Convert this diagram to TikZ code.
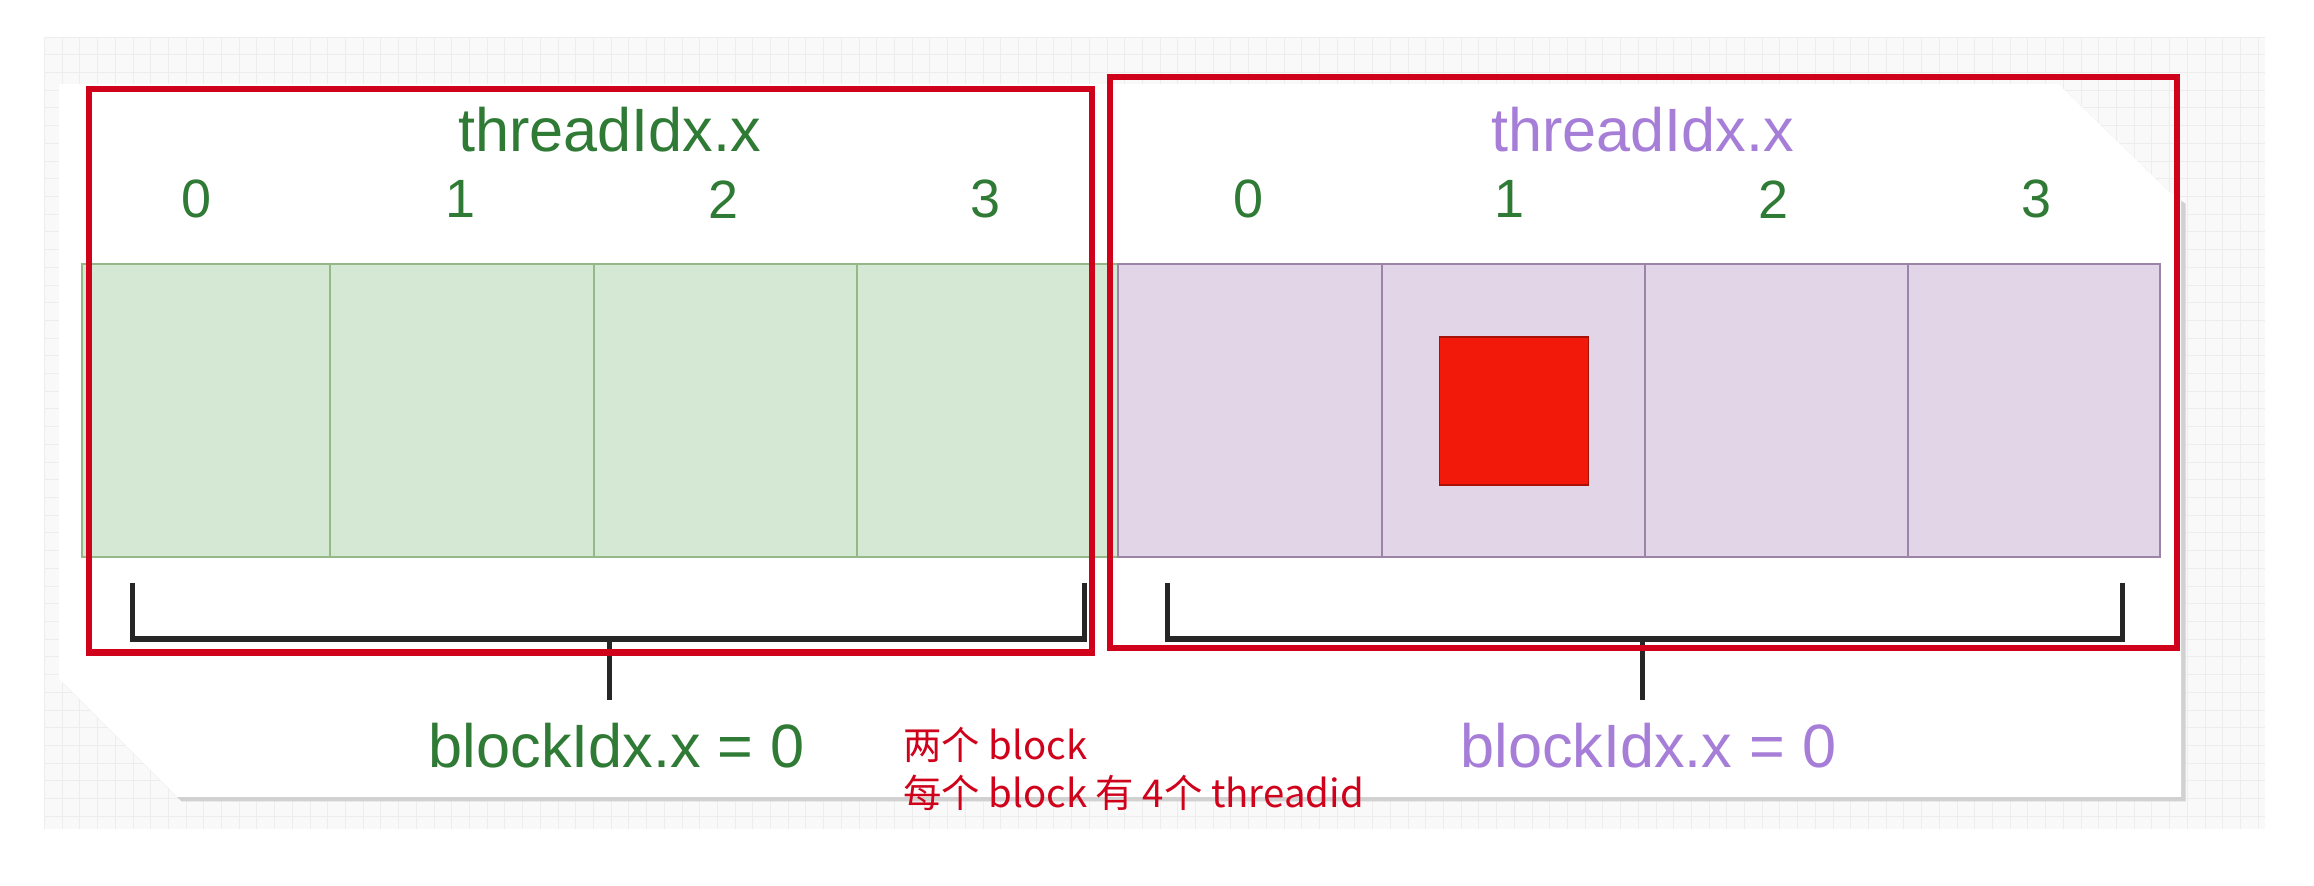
\documentclass[tikz,border=0pt]{standalone}
\usepackage{fontspec}
\setmainfont{Liberation Sans}
\newfontfamily\cjk{Noto Sans CJK SC}
\definecolor{gtext}{HTML}{2F7A35}
\definecolor{ptext}{HTML}{A67ED8}
\definecolor{gfill}{HTML}{D5E8D4}
\definecolor{gline}{HTML}{94B886}
\definecolor{pfill}{HTML}{E2D5E8}
\definecolor{pline}{HTML}{9C84A8}
\definecolor{rbox}{HTML}{D0021B}
\definecolor{rsq}{HTML}{F2190A}
\definecolor{gridc}{HTML}{EDEDED}
\begin{document}
\begin{tikzpicture}[x=0.05cm,y=-0.05cm,
  num/.style={font=\fontsize{52}{58}\selectfont,text=gtext},
  lbl/.style={font=\fontsize{59}{64}\selectfont},
  gcell/.style={fill=gfill,draw=gline,line width=2pt},
  pcell/.style={fill=pfill,draw=pline,line width=2pt},
  redbox/.style={draw=rbox,line width=6pt},
  brk/.style={draw=black!85,line width=5pt}]
\useasboundingbox (0,0) rectangle (1568,600);
\fill[white] (0,0) rectangle (1568,600);
\fill[gridc!35] (30,25) rectangle (1535,562);
\foreach \x in {30,42,...,1535} \draw[gridc,line width=0.6pt] (\x,25) -- (\x,562);
\foreach \y in {25,37,...,562} \draw[gridc,line width=0.6pt] (30,\y) -- (1535,\y);
% card shadow and card
\fill[black!18] (43,60) -- (1398,60) -- (1473,133) -- (1481,138) -- (1481,543) -- (123,543) -- (43,463) -- cycle;
\fill[white] (40,57) -- (1395,57) -- (1470,130) -- (1478,135) -- (1478,540) -- (120,540) -- (40,460) -- cycle;
% cells
\foreach \a/\b [count=\i] in {55/223,223/402,402/580,580/757}
  \node[gcell,minimum width={(\b-\a)*0.05cm},minimum height=9.95cm,anchor=north west,inner sep=0] (g\i) at (\a,178) {};
\foreach \a/\b [count=\i] in {757/936,936/1114,1114/1292,1292/1463}
  \node[pcell,minimum width={(\b-\a)*0.05cm},minimum height=9.95cm,anchor=north west,inner sep=0] (p\i) at (\a,178) {};
\node[fill=rsq,draw=rsq!70!black,line width=1.5pt,minimum width=5.05cm,minimum height=5cm,inner sep=0,anchor=north west] (sq) at (975,228) {};
% labels
\node[lbl,text=gtext] (tg) at (413,88) {threadIdx.x};
\node[lbl,text=ptext] (tp) at (1113,88) {threadIdx.x};
\foreach \x/\n [count=\i] in {133/0,312/1,490/2,668/3} \node[num] (ng\i) at (\x,135) {\n};
\foreach \x/\n [count=\i] in {846/0,1023/1,1202/2,1380/3} \node[num] (np\i) at (\x,135) {\n};
% brackets
\coordinate (bl1) at (90,395); \coordinate (bl2) at (90,433); \coordinate (bl3) at (735,433); \coordinate (bl4) at (735,395);
\coordinate (bls) at (413,433); \coordinate (ble) at (413,474);
\draw[brk] (bl1) -- (bl2) -- (bl3) -- (bl4); \draw[brk] (bls) -- (ble);
\coordinate (br1) at (791,395); \coordinate (br2) at (791,433); \coordinate (br3) at (1438,433); \coordinate (br4) at (1438,395);
\coordinate (brs) at (1113,433); \coordinate (bre) at (1113,474);
\draw[brk] (br1) -- (br2) -- (br3) -- (br4); \draw[brk] (brs) -- (bre);
\node[lbl,text=gtext] (bg) at (418,505) {blockIdx.x = 0};
\node[lbl,text=ptext] (bp) at (1117,505) {blockIdx.x = 0};
% red boxes
\node[redbox,minimum width=34cm,minimum height=19.1cm,anchor=north west,inner sep=0] (r1) at (58,58) {};
\node[redbox,minimum width=36.15cm,minimum height=19.35cm,anchor=north west,inner sep=0] (r2) at (750,50) {};
\node[text=rbox,font=\cjk\fontsize{37}{46}\selectfont,align=left,anchor=west,inner sep=0] (note) at (612,521) {两个 block\\每个 block 有 4个 threadid};
\end{tikzpicture}
\end{document}
